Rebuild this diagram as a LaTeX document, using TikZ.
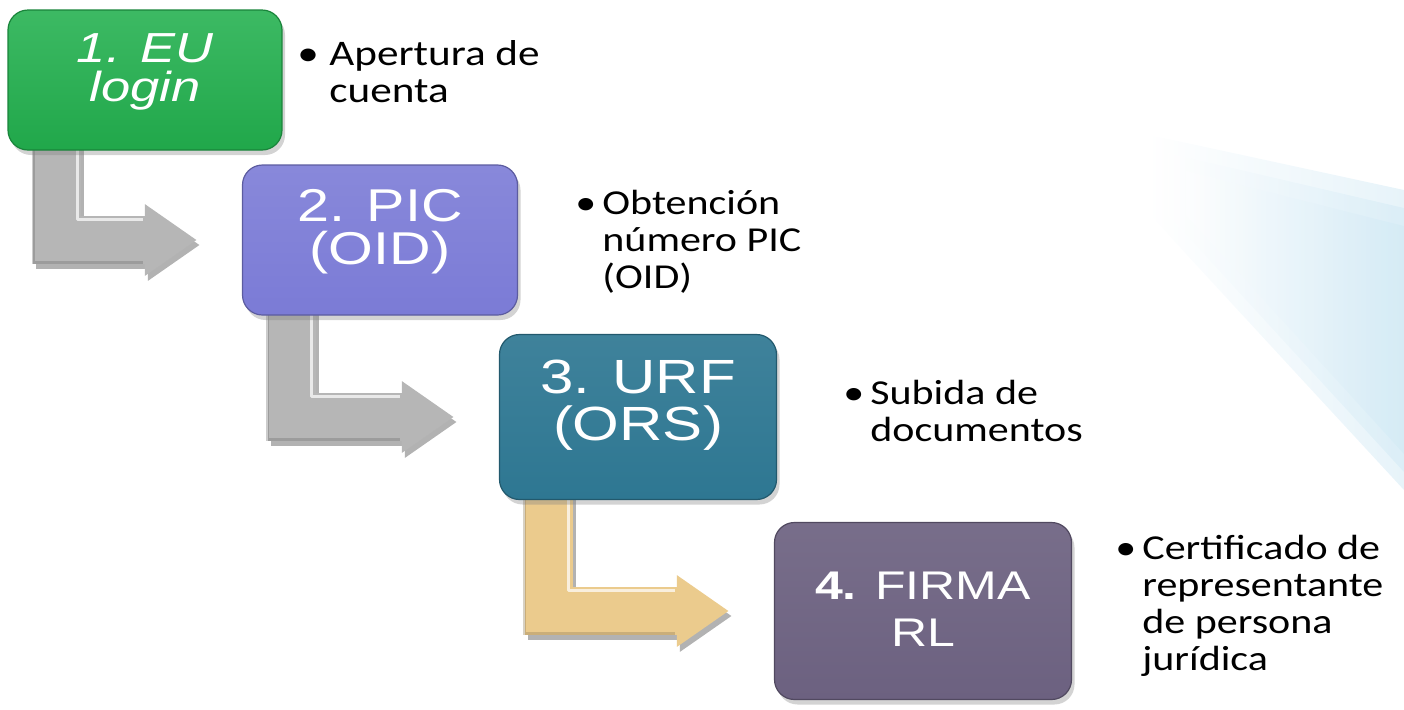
\documentclass[tikz,border=0pt]{standalone}
\usepackage{fontspec}
\newfontfamily\boxfont[FakeStretch=1.25]{Liberation Sans}
\newfontfamily\notefont[FakeStretch=1.2]{Carlito}
\usepackage{tikz}
\usetikzlibrary{positioning,arrows.meta,calc,shadows,backgrounds}
\definecolor{sgreen}{HTML}{22B04E}
\definecolor{spurple}{HTML}{7B7BD6}
\definecolor{steal}{HTML}{2E7792}
\definecolor{splum}{HTML}{6C6180}
\definecolor{sgray}{HTML}{B6B6B6}
\definecolor{stan}{HTML}{EBCB8D}
\definecolor{sband}{HTML}{CFE8F4}

\begin{document}
\begin{tikzpicture}[x=0.5pt,y=-0.5pt,
  stepbox/.style={rounded corners=10pt, inner sep=0pt, line width=0.6pt,
    drop shadow={shadow xshift=1.5pt, shadow yshift=-2.5pt, opacity=.35}},
  steptext/.style={align=center, text=white, inner sep=0pt},
  note/.style={anchor=north west, align=left, inner sep=0pt, font=\notefont\fontsize{17.5}{18.5}\selectfont},
  bentarrow/.style={line width=24pt, line join=miter, -{Triangle[length=26pt,width=34pt]}}]
 \useasboundingbox (0,0) rectangle (1404,709);
 % steps
 \node[stepbox, top color=sgreen!88!white, bottom color=sgreen!95!black, draw=sgreen!75!black,
   minimum width=137pt, minimum height=70pt] (b1) at (145,80) {};
 \node[stepbox, top color=spurple!90!white, bottom color=spurple, draw=spurple!75!black,
   minimum width=137.5pt, minimum height=75pt] (b2) at (380,240) {};
 \node[stepbox, top color=steal!92!white, bottom color=steal, draw=steal!75!black,
   minimum width=138.5pt, minimum height=82.5pt] (b3) at (638,417) {};
 \node[stepbox, top color=splum!92!white, bottom color=splum, draw=splum!75!black,
   minimum width=148.5pt, minimum height=88.5pt] (b4) at (923,611) {};
 \node[steptext, font=\boxfont\itshape\fontsize{21}{19.5}\selectfont] (t1) at ([yshift=4pt]b1.center) {1. EU\\login};
 \node[steptext, font=\boxfont\fontsize{23}{21.5}\selectfont] (t2) at ([yshift=4pt]b2.center) {2. PIC\\(OID)};
 \node[steptext, font=\boxfont\fontsize{24}{21.5}\selectfont] (t3) at ([yshift=6pt]b3.center) {3. URF\\[2pt](ORS)};
 \node[steptext, font=\boxfont\fontsize{20}{23.5}\selectfont] (t4) at ([yshift=1pt]b4.center) {{\bfseries 4.} FIRMA\\RL};
 % notes
 \node[note, font=\notefont\fontsize{18}{18.5}\selectfont] (n1) at (297,40) {\makebox[16pt][l]{\textbullet}Apertura de\\\hspace*{16pt}cuenta};
 \node[note] (n2) at (575,190) {\makebox[13.5pt][l]{\textbullet}Obtención\\\hspace*{13.5pt}número PIC\\\hspace*{13.5pt}(OID)};
 \node[note] (n3) at (843,380) {\makebox[13.5pt][l]{\textbullet}Subida de\\\hspace*{13.5pt}documentos};
 \node[note] (n4) at (1115,535) {\makebox[13.5pt][l]{\textbullet}Certificado de\\\hspace*{13.5pt}representante\\\hspace*{13.5pt}de persona\\\hspace*{13.5pt}jurídica};
 \begin{scope}[on background layer]
  \foreach \d in {0,18,36}
   \shade[left color=white, right color=sband, opacity=.5]
     (1150+\d,135+\d) -- (1404,190+\d) -- (1404,490-\d) -- (1150+\d,215) -- cycle;
  \foreach \s/\t/\c in {b1/b2/sgray, b2/b3/sgray, b3/b4/stan}{
   \draw[bentarrow, draw=black, opacity=.3, transform canvas={shift={(1.5pt,-2.5pt)}}]
     ($(\s.south west)+(50,-10)$) |- ($(\t.west)+(-45,0)$);
   \draw[bentarrow, draw=\c] ($(\s.south west)+(50,-10)$) |- ($(\t.west)+(-45,0)$);
   \draw[white, opacity=.7, line width=1.5pt, line join=round]
     ($(\s.south west)+(70,-10)$) |- ($(\t.west)+(-99,-21)$);
   \draw[\c!60!black, opacity=.35, line width=1.5pt]
     ($(\s.south west)+(26,-10)$) |- ($(\t.west)+(-99,22)$);
  }
 \end{scope}
\end{tikzpicture}
\end{document}
